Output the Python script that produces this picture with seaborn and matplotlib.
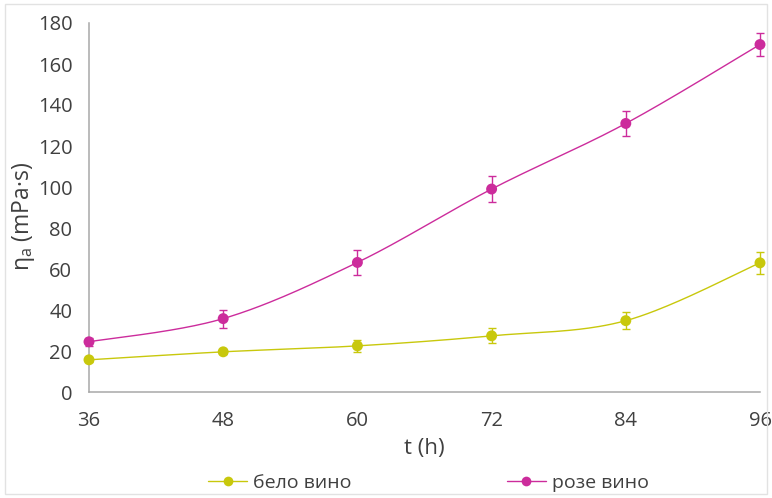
import numpy as np
import pandas as pd
import matplotlib
matplotlib.use("Agg")
import matplotlib.pyplot as plt
from matplotlib.ticker import MultipleLocator
from matplotlib.lines import Line2D
import seaborn as sns

# ---- data ----
hours = [36, 48, 60, 72, 84, 96]
white_wine = [15.7, 19.6, 22.5, 27.4, 34.8, 63.0]
white_err = [1.0, 1.0, 3.0, 3.6, 4.0, 5.3]
rose_wine = [24.5, 35.8, 63.2, 99.0, 131.0, 169.5]
rose_err = [2.0, 4.4, 6.0, 6.4, 6.0, 5.6]
series_names = ["бело вино", "розе вино"]
x_ticks = [36, 48, 60, 72, 84, 96]
y_ticks = [0, 20, 40, 60, 80, 100, 120, 140, 160, 180]

colors = {"бело вино": "#C8C80C", "розе вино": "#CC2C9C"}

sns.set_theme(style="white")
plt.rcParams["font.family"] = ["Open Sans", "DejaVu Sans"]
plt.rcParams["mathtext.default"] = "regular"
text_color = "#404040"


def catmull_rom(x, y, n=40):
    x = np.asarray(x, float)
    y = np.asarray(y, float)
    px = np.concatenate([[x[0]], x, [x[-1]]])
    py = np.concatenate([[y[0]], y, [y[-1]]])
    xs, ys = [], []
    for i in range(1, len(px) - 2):
        p0x, p1x, p2x, p3x = px[i - 1], px[i], px[i + 1], px[i + 2]
        p0y, p1y, p2y, p3y = py[i - 1], py[i], py[i + 1], py[i + 2]
        c1x, c1y = p1x + (p2x - p0x) / 6, p1y + (p2y - p0y) / 6
        c2x, c2y = p2x - (p3x - p1x) / 6, p2y - (p3y - p1y) / 6
        t = np.linspace(0, 1, n, endpoint=(i == len(px) - 3))
        b0 = (1 - t) ** 3
        b1 = 3 * (1 - t) ** 2 * t
        b2 = 3 * (1 - t) * t ** 2
        b3 = t ** 3
        xs.append(b0 * p1x + b1 * c1x + b2 * c2x + b3 * p2x)
        ys.append(b0 * p1y + b1 * c1y + b2 * c2y + b3 * p2y)
    return np.concatenate(xs), np.concatenate(ys)


points = pd.DataFrame({
    "t": hours * 2,
    "eta": white_wine + rose_wine,
    "err": white_err + rose_err,
    "series": [series_names[0]] * len(hours) + [series_names[1]] * len(hours),
})

curves = []
for name, vals in zip(series_names, [white_wine, rose_wine]):
    sx, sy = catmull_rom(hours, vals)
    curves.append(pd.DataFrame({"t": sx, "eta": sy, "series": name}))
curves = pd.concat(curves, ignore_index=True)

fig = plt.figure(figsize=(7.72, 4.98), dpi=100)
ax = fig.add_axes([89 / 772, 1 - 392 / 498, (760 - 89) / 772, (392 - 23) / 498])

sns.lineplot(data=curves, x="t", y="eta", hue="series", palette=colors,
             sort=False, estimator=None, lw=1.0, legend=False, ax=ax, zorder=2)
for name in series_names:
    d = points[points["series"] == name]
    ax.errorbar(d["t"], d["eta"], yerr=d["err"], fmt="none",
                ecolor=colors[name], elinewidth=1.0, capsize=3, capthick=1.0,
                zorder=3, clip_on=False)
sns.scatterplot(data=points, x="t", y="eta", hue="series", palette=colors,
                s=62, edgecolor="none", legend=False, ax=ax, zorder=4,
                clip_on=False)

ax.set_xlim(36, 96)
ax.set_ylim(0, 180)
ax.set_xticks(x_ticks)
ax.set_yticks(y_ticks)
ax.yaxis.set_minor_locator(MultipleLocator(10))

for s in ["top", "right"]:
    ax.spines[s].set_visible(False)
for s in ["left", "bottom"]:
    ax.spines[s].set_color("#A8A8A8")
    ax.spines[s].set_linewidth(1.1)

ax.tick_params(axis="both", which="both", direction="out", color="#A8A8A8",
               width=1.0, length=6, labelcolor=text_color, labelsize=14.5)
ax.tick_params(axis="y", pad=6)
ax.tick_params(axis="x", pad=8)
ax.tick_params(axis="x", which="minor", length=0)

ax.set_xlabel("t (h)", fontsize=16, color=text_color, labelpad=5)
ax.set_ylabel(r"η$_{a}$ (mPa·s)", fontsize=16.5, color=text_color)
ax.yaxis.set_label_coords(-0.078, 0.475)

handles = [Line2D([0], [0], color=colors[n], lw=1.0, marker="o", ms=7,
                  markeredgewidth=0) for n in series_names]
fig.legend(handles, series_names, loc="center", bbox_to_anchor=(0.555, 0.03),
           ncol=2, frameon=False, fontsize=14, handlelength=2.0,
           handletextpad=0.3, columnspacing=8.0, labelcolor=text_color)

fig.patches.append(plt.Rectangle((0.006, 0.008), 0.988, 0.984,
                                 transform=fig.transFigure, fill=False,
                                 edgecolor="#E2E2E2", lw=1.0))

fig.savefig("out.png", dpi=100)
